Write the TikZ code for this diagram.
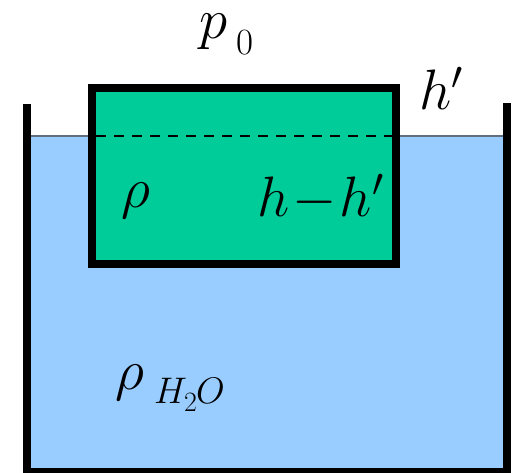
\documentclass[tikz,border=0pt]{standalone}
\usepackage{fix-cm}
\definecolor{water}{HTML}{99CCFF}
\definecolor{blockgreen}{HTML}{00CC99}
\definecolor{surface}{HTML}{5F6F80}
\begin{document}
\begin{tikzpicture}[x=1pt,y=-1pt,
  wall/.style={line width=8pt,draw=black,miter limit=10},
  blockbox/.style={line width=8pt,draw=black,fill=blockgreen},
  surfaceline/.style={draw=surface,line width=2pt},
  levelline/.style={draw=black,line width=2.5pt,dash pattern=on 10pt off 8pt},
  lbl/.style={inner sep=0pt,anchor=base west,font=\fontsize{57}{60}\selectfont},
  subup/.style={inner sep=0pt,anchor=base west,font=\fontsize{37}{40}\selectfont},
  subsub/.style={inner sep=0pt,anchor=base west,font=\fontsize{28}{30}\selectfont}
]
\useasboundingbox (0,0) rectangle (512,473);
% water
\fill[water] (31,136) rectangle (503,468);
\draw[surfaceline] (31,136) -- (503,136);
% container
\draw[wall] (27,104) -- (27,472) -- (507,472) -- (507,103);
% block
\draw[blockbox] (92,88) rectangle (396,264);
\draw[levelline] (96,136) -- (392,136);
% labels
\node[lbl] (p0) at (199,39) {$p$};
\node[subup] (p0s) at (236,55) {$0$};
\node[lbl] (hp) at (419,110) {$h'$};
\node[lbl] (rho) at (121,208) {$\rho$};
\node[lbl] (hmh) at (257,217) {$h\!-\!h'$};
\node[lbl] (rhow) at (115,390) {$\rho$};
\node[subup] (H) at (154,403) {$H$};
\node[subsub] (two) at (184,412) {$2$};
\node[subup] (O) at (196,403) {$O$};
\end{tikzpicture}
\end{document}
